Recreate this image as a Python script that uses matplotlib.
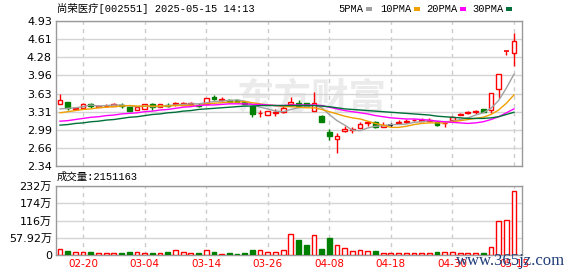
import numpy as np
import matplotlib
matplotlib.use('Agg')
import matplotlib.pyplot as plt

plt.rcParams['font.family'] = ['DejaVu Sans', 'Noto Sans CJK SC']

#%% data
dates = ['02-17', '02-18', '02-19', '02-20', '02-21', '02-24', '02-25', '02-26', '02-27', '02-28',
         '03-03', '03-04', '03-05', '03-06', '03-07', '03-10', '03-11', '03-12', '03-13', '03-14',
         '03-17', '03-18', '03-19', '03-20', '03-21', '03-24', '03-25', '03-26', '03-27', '03-28',
         '03-31', '04-01', '04-02', '04-03', '04-07', '04-08', '04-09', '04-10', '04-11', '04-14',
         '04-15', '04-16', '04-17', '04-18', '04-21', '04-22', '04-23', '04-24', '04-25', '04-28',
         '04-29', '04-30', '05-06', '05-07', '05-08', '05-09', '05-12', '05-13', '05-14', '05-15']

opens = [3.44, 3.48, 3.35, 3.38, 3.45, 3.40, 3.41, 3.42, 3.43, 3.39,
         3.34, 3.36, 3.45, 3.40, 3.43, 3.44, 3.43, 3.45, 3.43, 3.45,
         3.57, 3.52, 3.52, 3.51, 3.48, 3.42, 3.28, 3.25, 3.29, 3.30,
         3.44, 3.46, 3.46, 3.32, 3.24, 2.95, 2.82, 2.96, 2.99, 3.02,
         3.11, 3.12, 3.03, 3.07, 3.11, 3.13, 3.16, 3.15, 3.15, 3.13,
         3.10, 3.17, 3.25, 3.29, 3.30, 3.35, 3.34, 3.71, 4.39, 4.35]
highs = [3.63, 3.48, 3.38, 3.47, 3.47, 3.43, 3.45, 3.46, 3.46, 3.40,
         3.41, 3.45, 3.46, 3.44, 3.46, 3.48, 3.48, 3.49, 3.46, 3.55,
         3.60, 3.57, 3.54, 3.52, 3.49, 3.43, 3.34, 3.32, 3.36, 3.43,
         3.57, 3.51, 3.47, 3.66, 3.25, 3.00, 2.93, 3.05, 3.04, 3.12,
         3.15, 3.15, 3.13, 3.11, 3.16, 3.18, 3.18, 3.19, 3.19, 3.13,
         3.15, 3.24, 3.29, 3.33, 3.34, 3.36, 3.64, 3.99, 4.39, 4.71]
lows = [3.44, 3.34, 3.34, 3.38, 3.38, 3.39, 3.40, 3.42, 3.38, 3.33,
        3.34, 3.35, 3.34, 3.40, 3.39, 3.41, 3.43, 3.43, 3.39, 3.45,
        3.51, 3.50, 3.48, 3.48, 3.44, 3.21, 3.21, 3.25, 3.24, 3.28,
        3.44, 3.41, 3.40, 3.32, 3.13, 2.80, 2.58, 2.95, 2.93, 3.01,
        3.06, 3.01, 3.03, 3.03, 3.10, 3.11, 3.15, 3.14, 3.14, 3.06,
        3.04, 3.17, 3.25, 3.27, 3.27, 3.30, 3.28, 3.55, 4.33, 4.12]
closes = [3.51, 3.38, 3.37, 3.45, 3.42, 3.42, 3.42, 3.45, 3.42, 3.33,
          3.39, 3.44, 3.40, 3.44, 3.42, 3.46, 3.47, 3.46, 3.42, 3.55,
          3.53, 3.53, 3.49, 3.49, 3.44, 3.26, 3.29, 3.32, 3.30, 3.37,
          3.49, 3.42, 3.41, 3.46, 3.13, 2.88, 2.88, 3.00, 3.00, 3.09,
          3.12, 3.04, 3.07, 3.07, 3.12, 3.15, 3.17, 3.16, 3.16, 3.08,
          3.11, 3.22, 3.27, 3.30, 3.33, 3.31, 3.64, 3.99, 4.39, 4.57]

# volume in 万
volume = [20, 14.6, 10, 11, 11, 7, 7, 7, 8, 11,
          10, 7, 8, 7, 11, 17, 10, 8, 8, 17,
          11, 4.5, 8, 4.5, 8, 18, 17, 10, 10, 17,
          70, 49, 32, 68, 18.5, 55.5, 34.5, 23.5, 13, 17,
          13, 14.6, 8, 8, 8, 8, 8, 8, 8, 11,
          11, 11, 8, 8, 8, 5.5, 27.5, 113, 117, 215.1]

ma5 = [3.36, 3.37, 3.38, 3.40, 3.43, 3.41, 3.42, 3.43, 3.43, 3.41,
       3.40, 3.41, 3.40, 3.40, 3.42, 3.43, 3.44, 3.45, 3.45, 3.47,
       3.49, 3.50, 3.51, 3.52, 3.50, 3.44, 3.39, 3.36, 3.32, 3.31,
       3.35, 3.38, 3.40, 3.43, 3.38, 3.26, 3.15, 3.07, 2.98, 2.97,
       3.02, 3.05, 3.06, 3.08, 3.08, 3.09, 3.12, 3.13, 3.15, 3.14,
       3.13, 3.14, 3.17, 3.20, 3.25, 3.29, 3.37, 3.51, 3.73, 3.98]
ma10 = [3.29, 3.31, 3.33, 3.35, 3.36, 3.38, 3.39, 3.40, 3.41, 3.42,
        3.41, 3.41, 3.41, 3.41, 3.41, 3.42, 3.42, 3.42, 3.42, 3.45,
        3.46, 3.47, 3.48, 3.48, 3.49, 3.47, 3.45, 3.43, 3.42, 3.40,
        3.40, 3.39, 3.38, 3.38, 3.35, 3.31, 3.27, 3.23, 3.20, 3.18,
        3.14, 3.10, 3.07, 3.03, 3.03, 3.05, 3.08, 3.10, 3.11, 3.11,
        3.11, 3.13, 3.15, 3.17, 3.19, 3.21, 3.26, 3.34, 3.46, 3.61]
ma20 = [3.14, 3.15, 3.17, 3.19, 3.21, 3.22, 3.24, 3.25, 3.27, 3.28,
        3.29, 3.31, 3.32, 3.34, 3.35, 3.37, 3.39, 3.40, 3.42, 3.43,
        3.43, 3.44, 3.45, 3.45, 3.45, 3.44, 3.44, 3.43, 3.42, 3.42,
        3.43, 3.43, 3.43, 3.43, 3.42, 3.39, 3.36, 3.33, 3.31, 3.29,
        3.27, 3.24, 3.22, 3.20, 3.19, 3.18, 3.18, 3.17, 3.16, 3.14,
        3.13, 3.12, 3.11, 3.10, 3.11, 3.13, 3.17, 3.22, 3.29, 3.36]
ma30 = [3.07, 3.08, 3.10, 3.11, 3.13, 3.14, 3.16, 3.17, 3.19, 3.21,
        3.22, 3.24, 3.26, 3.27, 3.29, 3.30, 3.32, 3.33, 3.35, 3.36,
        3.37, 3.38, 3.39, 3.40, 3.41, 3.41, 3.42, 3.42, 3.42, 3.42,
        3.42, 3.42, 3.42, 3.42, 3.41, 3.40, 3.38, 3.36, 3.35, 3.34,
        3.33, 3.32, 3.31, 3.30, 3.29, 3.28, 3.27, 3.26, 3.25, 3.23,
        3.22, 3.21, 3.20, 3.19, 3.19, 3.19, 3.20, 3.22, 3.26, 3.30]

ma_names = ['5PMA', '10PMA', '20PMA', '30PMA']
vol_ticks = [0, 57.92, 115.84, 173.76, 231.68]
vol_labels = ['0', '57.92万', '116万', '174万', '232万']
title = '尚荣医疗[002551] 2025-05-15 14:13'
vol_title = '成交量:2151163'

#%% colours
RED = '#ff0000'
GREEN = '#008000'
GRID = '#d4d4d4'
ma_colors = ['#a0a0a0', '#f0a000', '#ff00ff', '#00703a']

W, H = 578, 276
fig = plt.figure(figsize=(W / 100, H / 100), dpi=100)
ax = fig.add_axes([56 / W, 1 - 166 / H, 466 / W, 145 / H])
axv = fig.add_axes([56 / W, 1 - 255 / H, 466 / W, 69 / H])

x = np.arange(len(dates))
grid_idx = list(range(3, len(dates), 8))

for a in (ax, axv):
    a.set_xlim(-0.52, 60.04)
    for s in a.spines.values():
        s.set_color('#9a9a9a')
        s.set_linewidth(1)
    a.tick_params(length=0, labelsize=8, pad=3)
    a.yaxis.grid(True, color=GRID, lw=1, ls='-')
    a.set_axisbelow(True)
    for g in grid_idx:
        a.axvline(g, color='#cccccc', lw=1, ls=(0, (3, 3)), zorder=0)

# price panel
yt = np.linspace(2.34, 4.93, 9)
ax.set_ylim(2.34, 4.93)
ax.set_yticks(yt)
ax.set_yticklabels(['%.2f' % v for v in yt])
ax.set_xticks([])

# faint site logo behind the candles
ax.text(0.55, 0.45, '东方财富', transform=ax.transAxes, fontsize=27, color='#ebebeb',
        ha='center', va='center', weight='bold', zorder=0.5)

prev = closes[0]
cols = []
for i in range(len(x)):
    o, h, l, c = opens[i], highs[i], lows[i], closes[i]
    if c > o:
        col = RED
    elif c < o:
        col = GREEN
    else:
        col = RED if c > prev else (GREEN if c < prev else 'black')
    cols.append(col)
    prev = c
    ax.vlines(i, l, h, color=col, lw=1, zorder=2)
    if abs(c - o) < 0.006:
        ax.hlines(c, i - 0.32, i + 0.32, color=col, lw=1.2, zorder=3)
    else:
        ax.bar(i, abs(c - o), 0.62, bottom=min(o, c),
               facecolor='white' if col == RED else col, edgecolor=col, lw=1, zorder=3)

for ma, mc in zip([ma5, ma10, ma20, ma30], ma_colors):
    ax.plot(x, ma, color=mc, lw=1, zorder=4)

# volume panel
axv.set_ylim(0, 231.68)
axv.set_yticks(vol_ticks)
axv.set_yticklabels(vol_labels)
axv.set_xticks(grid_idx)
axv.set_xticklabels([dates[g] for g in grid_idx], color=RED, fontsize=7.5)
for i in range(len(x)):
    up = closes[i] >= opens[i]
    axv.bar(i, volume[i], 0.62, facecolor='white' if up else GREEN,
            edgecolor=RED if up else GREEN, lw=1, zorder=3)

# texts
mono = ['Liberation Mono', 'Noto Sans CJK SC']
fig.text(57 / W, 1 - 9 / H, title, family=mono, fontsize=7.5, va='center', ha='left')
fig.text(57 / W, 1 - 177 / H, vol_title, family=mono, fontsize=7.5, va='center', ha='left')

leg_x = [338, 380, 426, 472]
for name, mc, lx in zip(ma_names, ma_colors, leg_x):
    fig.text(lx / W, 1 - 9 / H, name, family=mono, fontsize=7.5, va='center', ha='left')
    mx = lx + 6.2 * len(name) + 3
    fig.patches.append(plt.Rectangle((mx / W, 1 - 10.5 / H), 6 / W, 3 / H,
                                     transform=fig.transFigure, facecolor=mc, edgecolor='none'))

# site watermark, overlapping the last tick labels as in the source image
fig.text(456 / W, 1 - 261 / H, 'www.365jz.com', family='Liberation Serif', fontsize=12,
         color='#1f3d7a', va='center', ha='left')

fig.savefig('out.png', dpi=100)
